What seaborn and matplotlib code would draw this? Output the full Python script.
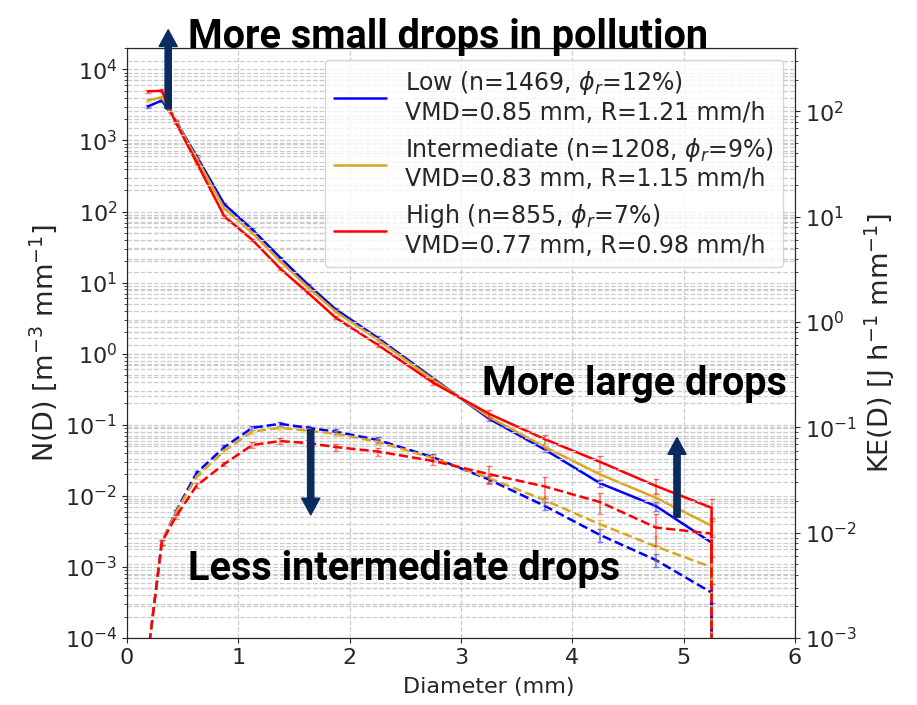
import matplotlib
matplotlib.use('Agg')
import numpy as np
import pandas as pd
import seaborn as sns
from matplotlib import pyplot as plt

# bin centres (mm); last bin is empty
diameter = [0.1875, 0.3125, 0.4375, 0.625, 0.875, 1.125, 1.375, 1.625, 1.875,
            2.25, 2.75, 3.25, 3.75, 4.25, 4.75, 5.25, 5.75]

# N(D) [m-3 mm-1]
nd_low = [3000, 3650, 1900, 600, 126, 56, 22.5, 9.4, 4.2, 1.68, 0.45, 0.122, 0.045, 0.015, 0.0072, 0.0022, 0]
nd_int = [3650, 4050, 1870, 560, 110, 50, 20, 8.6, 3.9, 1.58, 0.43, 0.129, 0.049, 0.020, 0.0094, 0.0038, 0]
nd_high = [4900, 5000, 1800, 490, 85, 40, 15.8, 7.2, 3.2, 1.34, 0.39, 0.143, 0.063, 0.030, 0.0138, 0.0068, 0]

# KE(D) [J h-1 mm-1]
ke_low = [6.8e-4, 8.1e-3, 0.0158, 0.037, 0.065, 0.099, 0.108, 0.099, 0.091, 0.076, 0.052, 0.032, 0.018, 0.0095, 0.0055, 0.0027, 0]
ke_int = [6.8e-4, 8.1e-3, 0.0155, 0.034, 0.060, 0.091, 0.099, 0.093, 0.087, 0.073, 0.051, 0.033, 0.0204, 0.012, 0.0074, 0.0047, 0]
ke_high = [6.8e-4, 8.1e-3, 0.0141, 0.028, 0.045, 0.068, 0.074, 0.071, 0.065, 0.059, 0.048, 0.036, 0.0275, 0.0195, 0.0112, 0.0098, 0]

# relative spread (fraction of the mean) for the non-empty bins
err_nd_low = [0.05, 0.04, 0.03, 0.03, 0.03, 0.03, 0.03, 0.03, 0.04, 0.04, 0.05, 0.07, 0.09, 0.11, 0.14, 0.2]
err_nd_int = [0.05, 0.04, 0.03, 0.03, 0.03, 0.03, 0.03, 0.03, 0.04, 0.05, 0.06, 0.08, 0.1, 0.13, 0.17, 0.25]
err_nd_high = [0.05, 0.05, 0.04, 0.04, 0.04, 0.04, 0.04, 0.05, 0.05, 0.06, 0.08, 0.12, 0.14, 0.2, 0.24, 0.34]
err_ke_low = [0.1, 0.05, 0.04, 0.04, 0.04, 0.04, 0.04, 0.05, 0.05, 0.06, 0.07, 0.08, 0.09, 0.15, 0.14, 0.2]
err_ke_int = [0.1, 0.05, 0.04, 0.04, 0.04, 0.04, 0.04, 0.05, 0.05, 0.06, 0.07, 0.09, 0.1, 0.1, 0.27, 0.3]
err_ke_high = [0.1, 0.06, 0.05, 0.05, 0.05, 0.06, 0.06, 0.07, 0.08, 0.09, 0.09, 0.19, 0.22, 0.23, 0.33, 0.4]

labels = ['Low (n=1469, $\\phi_r$=12%)\nVMD=0.85 mm, R=1.21 mm/h',
          'Intermediate (n=1208, $\\phi_r$=9%)\nVMD=0.83 mm, R=1.15 mm/h',
          'High (n=855, $\\phi_r$=7%)\nVMD=0.77 mm, R=0.98 mm/h']
colors = ['blue', 'goldenrod', 'red']
navy = '#0b2a5e'

sns.set_style('ticks')
plt.rcParams['font.family'] = ['DejaVu Sans']

fig = plt.figure(figsize=(9.17, 7.05), dpi=100)
ax = fig.add_axes([0.1385, 0.095, 0.7285, 0.837])
ax2 = ax.twinx()
ax.set_yscale('log')
ax2.set_yscale('log')

gridKw = dict(ls='--', color='#cbcbcb', lw=0.9)
ax.grid(True, which='both', **gridKw)
ax2.grid(True, which='both', axis='y', **gridKw)
ax.set_axisbelow(True)

D = np.array(diameter)
ndSeries = [(nd_low, err_nd_low), (nd_int, err_nd_int), (nd_high, err_nd_high)]
keSeries = [(ke_low, err_ke_low), (ke_int, err_ke_int), (ke_high, err_ke_high)]

for (nd, e), c, lab in zip(ndSeries, colors, labels):
    sns.lineplot(x=D, y=nd, ax=ax, color=c, lw=1.8, label=lab, estimator=None, sort=False)
    v = np.array(nd[:-1], dtype=float)
    ax.errorbar(D[:-1], v, yerr=v * np.array(e), fmt='none', ecolor=c, alpha=0.5, capsize=2.5, elinewidth=1.2)

for (ke, e), c in zip(keSeries, colors):
    sns.lineplot(x=D, y=ke, ax=ax2, color=c, lw=1.8, linestyle='--', estimator=None, sort=False, legend=False)
    v = np.array(ke[:-1], dtype=float)
    ax2.errorbar(D[:-1], v, yerr=v * np.array(e), fmt='none', ecolor=c, alpha=0.5, capsize=2.5, elinewidth=1.2)

handles, labs = ax.get_legend_handles_labels()
if ax.get_legend() is not None:
    ax.get_legend().remove()
ax2.legend(handles, labs, loc='upper right', fontsize=17, labelspacing=0.45,
           handlelength=2.2, borderaxespad=0.5)

ax.set_xlim(0, 6)
ax.set_ylim(1e-4, 2e4)
ax2.set_ylim(1e-3, 4e2)
ax.set_xlabel('Diameter (mm)', fontsize=16)
ax.xaxis.set_label_coords(0.542, -0.066)
ax.set_ylabel('N(D) [m$^{-3}$ mm$^{-1}$]', fontsize=19.5)
ax2.set_ylabel('KE(D) [J h$^{-1}$ mm$^{-1}$]', fontsize=19.5)
ax.tick_params(labelsize=16)
ax2.tick_params(labelsize=16)
for s in ax.spines.values():
    s.set_visible(True)
for s in ax2.spines.values():
    s.set_visible(True)

# arrows (positions in N(D) units)
arrowKw = dict(facecolor=navy, edgecolor=navy, width=4.5, headwidth=13, headlength=12, shrink=0)
ax2.annotate('', xy=(0.37, 3.6e4), xytext=(0.37, 2800), xycoords=ax.transData,
             textcoords=ax.transData, arrowprops=arrowKw, annotation_clip=False)
ax2.annotate('', xy=(1.65, 0.0054), xytext=(1.65, 0.085), xycoords=ax.transData,
             textcoords=ax.transData, arrowprops=arrowKw)
ax2.annotate('', xy=(4.94, 0.066), xytext=(4.94, 0.005), xycoords=ax.transData,
             textcoords=ax.transData, arrowprops=arrowKw)

txtKw = dict(family=['Roboto', 'DejaVu Sans'], fontweight='bold',
             fontsize=28.5, color='black', va='baseline', ha='left',
             transform=ax.transAxes)
ax2.text(0.091, 1.0, 'More small drops in pollution', **txtKw)
ax2.text(0.531, 0.412, 'More large drops', **txtKw)
ax2.text(0.091, 0.098, 'Less intermediate drops', **txtKw)

plt.savefig('out.png', dpi=100)
plt.close()
